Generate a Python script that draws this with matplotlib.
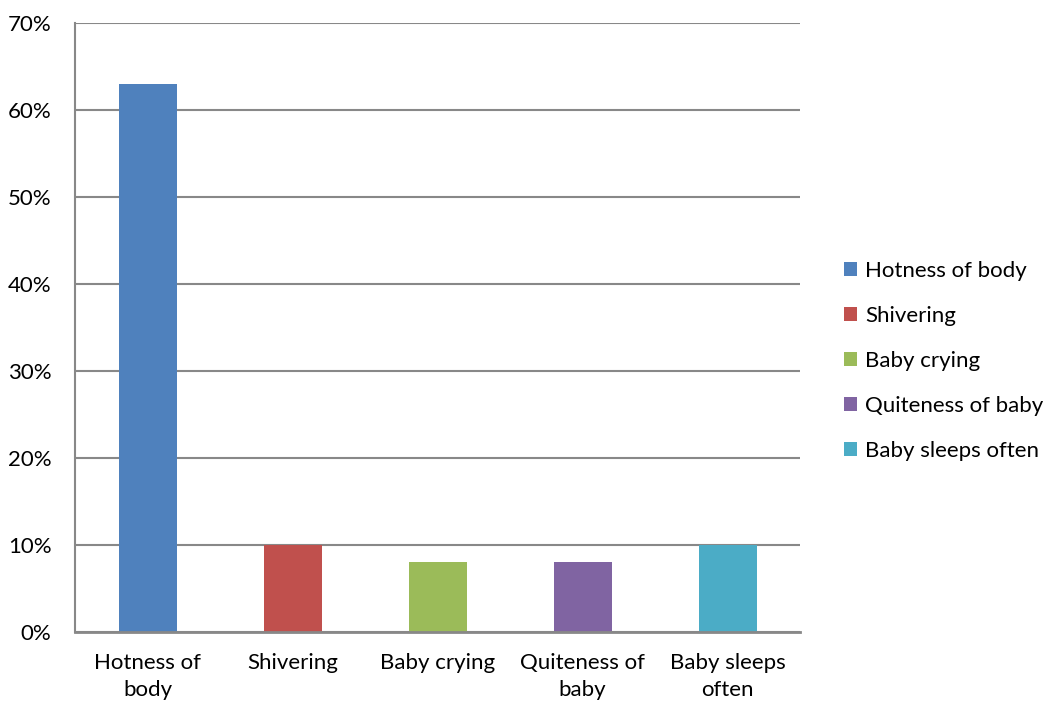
import matplotlib.pyplot as plt
from matplotlib.patches import Patch

plt.rcParams['font.family'] = ['Lato', 'DejaVu Sans']

categories = ["Hotness of body", "Shivering", "Baby crying", "Quiteness of baby", "Baby sleeps often"]
tick_labels = ["Hotness of\nbody", "Shivering", "Baby crying", "Quiteness of\nbaby", "Baby sleeps\noften"]
values = [63, 10, 8, 8, 10]
colors = ["#4f81bd", "#c0504d", "#9bbb59", "#8064a2", "#4bacc6"]

fig = plt.figure(figsize=(10.48, 7.01), dpi=100)
ax = fig.add_axes([0.0716, 0.0984, 0.6918, 0.8688])

x = list(range(len(categories)))
ax.bar(x, values, width=0.4, color=colors, zorder=3)

ax.set_xlim(-0.5, len(categories) - 0.5)
ax.set_ylim(0, 70)
ax.set_yticks(range(0, 71, 10))
ax.set_yticklabels([f"{v}%" for v in range(0, 71, 10)], fontsize=16)
ax.set_xticks(x)
ax.set_xticklabels(tick_labels, fontsize=16, linespacing=1.45)
ax.tick_params(axis='y', length=0, pad=17)
ax.tick_params(axis='x', length=0, pad=15)

ax.yaxis.grid(True, color="#888888", linewidth=1.5, zorder=0)
for side in ["top", "right"]:
    ax.spines[side].set_visible(False)
ax.spines["left"].set_color("#888888")
ax.spines["left"].set_linewidth(1.5)
ax.spines["bottom"].set_color("#888888")
ax.spines["bottom"].set_linewidth(2)
ax.spines["bottom"].set_zorder(4)

handles = [Patch(facecolor=c, edgecolor="none") for c in colors]
fig.legend(handles, categories, loc="center left", bbox_to_anchor=(0.786, 0.485),
           frameon=False, fontsize=16, handlelength=0.6, handleheight=0.6,
           handletextpad=0.35, labelspacing=1.12)

fig.savefig("out.png", dpi=100)
